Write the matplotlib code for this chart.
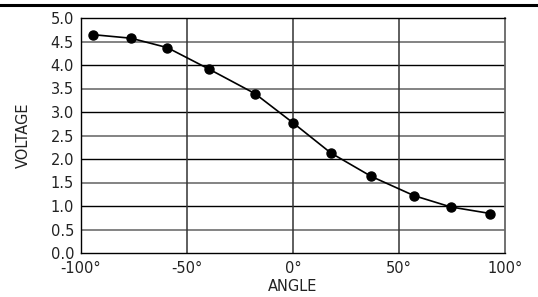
import matplotlib
matplotlib.use("Agg")
import matplotlib.pyplot as plt
from matplotlib.lines import Line2D

angle = [-94.2, -76.4, -59.3, -39.5, -17.9, 0.0, 17.8, 36.9, 57.1, 74.4, 93.1]
voltage = [4.645, 4.57, 4.37, 3.91, 3.39, 2.77, 2.13, 1.63, 1.22, 0.98, 0.84]
xticks = [-100, -50, 0, 50, 100]
xtick_labels = ["-100°", "-50°", "0°", "50°", "100°"]
yticks = [0.0, 0.5, 1.0, 1.5, 2.0, 2.5, 3.0, 3.5, 4.0, 4.5, 5.0]
ytick_labels = ["0.0", "0.5", "1.0", "1.5", "2.0", "2.5", "3.0", "3.5", "4.0", "4.5", "5.0"]

plt.rcParams['font.family'] = ['DejaVu Sans']
W, H = 538, 297
fig = plt.figure(figsize=(W/100, H/100), dpi=100)
ax = fig.add_axes([81/W, 1-253/H, (505-81)/W, (253-18)/H])

ax.set_xlim(-100, 100)
ax.set_ylim(0, 5)
ax.set_xticks(xticks)
ax.set_xticklabels(xtick_labels)
ax.set_yticks(yticks)
ax.set_yticklabels(ytick_labels)
ax.tick_params(length=0, labelsize=10.5, colors='#222222')
ax.tick_params(axis='x', pad=6)
ax.tick_params(axis='y', pad=5)

# horizontal grid lines
for v in yticks[1:-1]:
    col = 'black' if abs(v - round(v)) < 1e-9 else '#7a7a7a'
    lw = 1.0 if col == 'black' else 1.3
    ax.axhline(v, color=col, lw=lw, zorder=1)
for v in xticks[1:-1]:
    ax.axvline(v, color='#333333', lw=1.1, zorder=1)

for s in ['left', 'bottom', 'top']:
    ax.spines[s].set_color('black')
    ax.spines[s].set_linewidth(1.0)
ax.spines['right'].set_color('#666666')
ax.spines['right'].set_linewidth(1.3)

ax.plot(angle, voltage, color='black', lw=1.2, marker='o', ms=6.5, zorder=3, clip_on=False)

ax.set_xlabel("ANGLE", fontsize=10.5, labelpad=2, color='#222222')
fig.text(23/W, 1-135/H, "VOLTAGE", rotation=90, ha='center', va='center', fontsize=10.5, color='#222222')

fig.add_artist(Line2D([0, 537/W], [1-4.5/H, 1-4.5/H], color='black', lw=2.2))

fig.savefig("out.png", dpi=100)
